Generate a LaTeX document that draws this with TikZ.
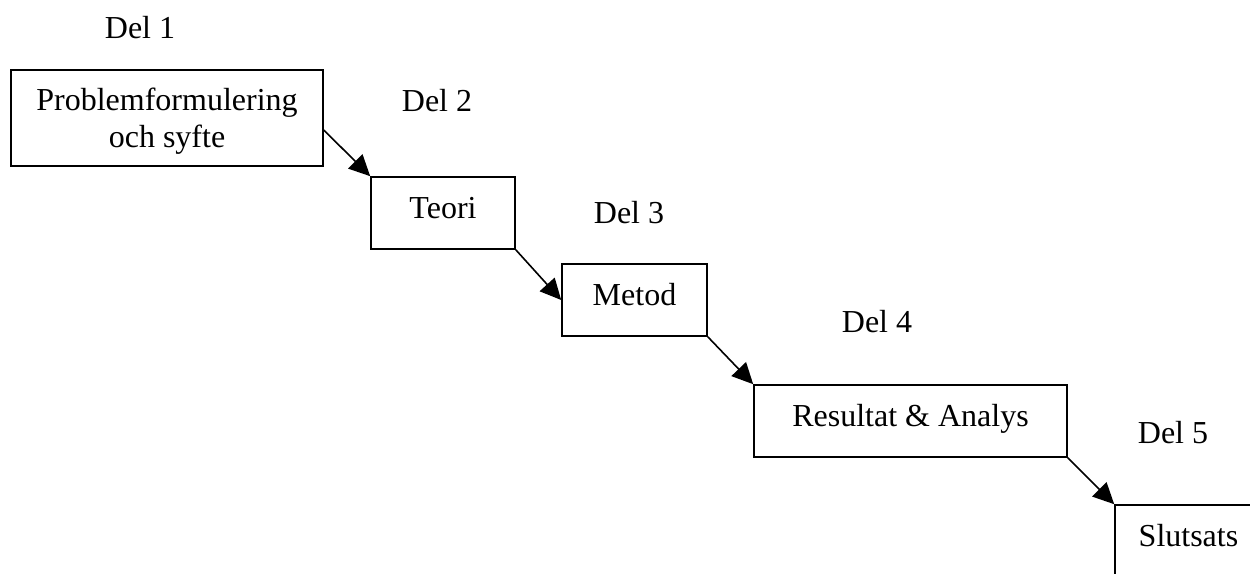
\documentclass[tikz,border=0pt]{standalone}
\usepackage{fontspec}
\setmainfont{Liberation Serif}
\usetikzlibrary{arrows.meta}

\begin{document}
\begin{tikzpicture}[x=0.5pt,y=-0.5pt]
\tikzstyle{every node}+=[inner sep=0pt, font=\fontsize{16}{18.5}\selectfont]
\tikzstyle{box}=[draw=black, line width=0.8pt, text height=11pt, text depth=6pt]
\tikzstyle{arr}=[black, line width=0.8pt, -{Triangle[length=10.5pt,width=10pt]}]
\clip (0,0) rectangle (1250,574);
\draw (140,28) node (del1) {Del 1};
\draw (167,118) node [draw=black, line width=0.8pt, align=center, text height=33pt, text depth=4pt, minimum width=156pt, minimum height=48pt] (prob) {Problemformulering\\och syfte};
\draw (437,101) node (del2) {Del 2};
\draw (443,213) node [box, minimum width=72pt, minimum height=36pt] (teori) {Teori};
\draw (629,213) node (del3) {Del 3};
\draw (634.5,300) node [box, minimum width=72.5pt, minimum height=36pt] (metod) {Metod};
\draw (877,322) node (del4) {Del 4};
\draw (910.5,421) node [box, minimum width=156.5pt, minimum height=36pt] (res) {Resultat \& Analys};
\draw (1173,433) node (del5) {Del 5};
\draw (1188.5,541) node [box, minimum width=73.5pt, minimum height=36pt] (slut) {Slutsats};
\draw [arr] ([yshift=-6pt]prob.east) -- (teori.north west);
\draw [arr] (teori.south east) -- (metod.west);
\draw [arr] (metod.south east) -- (res.north west);
\draw [arr] (res.south east) -- (slut.north west);
\end{tikzpicture}
\end{document}
